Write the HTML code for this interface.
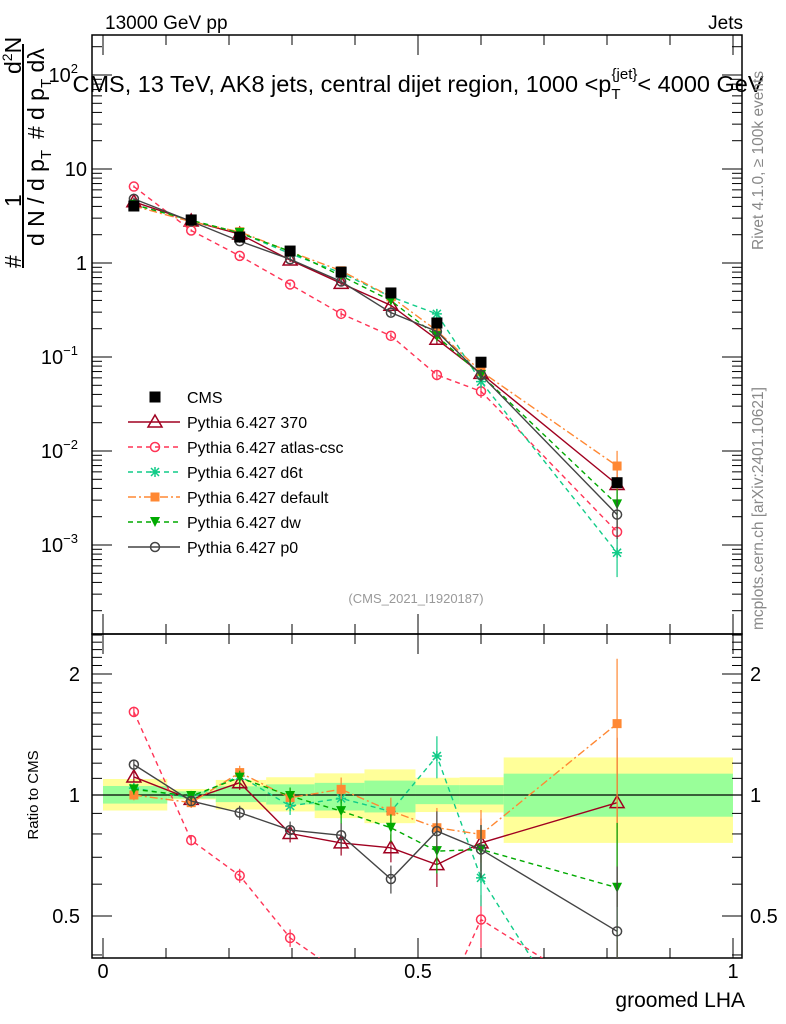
<!DOCTYPE html>
<html><head><meta charset="utf-8">
<style>
html,body{margin:0;padding:0;background:#fff;overflow:hidden;width:786px;height:1024px;}
svg{display:block;font-family:"Liberation Sans",sans-serif;}
</style></head>
<body>
<svg id="c" width="786" height="1024" viewBox="0 0 786 1024" xmlns="http://www.w3.org/2000/svg">
<g id="bands"></g>
<g id="axes"></g>
<g id="series"></g>
<text x="105" y="29" font-size="19">13000 GeV pp</text>
<text x="743" y="29" font-size="19" text-anchor="end">Jets</text>
<text x="418" y="92" font-size="23.5" text-anchor="middle">CMS, 13 TeV, AK8 jets, central dijet region, 1000 &lt;p<tspan font-size="15" dy="7">T</tspan><tspan font-size="15" dy="-20" dx="-9">{jet}</tspan><tspan dy="13">&lt; 4000 GeV</tspan></text>
<text x="416" y="603" font-size="13" fill="#999" text-anchor="middle">(CMS_2021_I1920187)</text>
<text transform="translate(763,250) rotate(-90)" font-size="15.5" fill="#888">Rivet 4.1.0, ≥ 100k events</text>
<text transform="translate(763,630) rotate(-90)" font-size="15.5" fill="#888">mcplots.cern.ch [arXiv:2401.10621]</text>
<g font-size="23">
<text transform="translate(21,268) rotate(-90)">#</text>
<text transform="translate(21,207) rotate(-90)">1</text>
<text transform="translate(21,74) rotate(-90)">d<tspan font-size="14" dy="-9">2</tspan><tspan dy="9">N</tspan></text>
<line x1="23" y1="268" x2="23" y2="44" stroke="#000" stroke-width="2"/>
<text transform="translate(44,246) rotate(-90)">d N / d p<tspan font-size="15" dy="7">T</tspan></text>
<text transform="translate(44,139) rotate(-90)">#</text>
<text transform="translate(44,120) rotate(-90)">d p<tspan font-size="15" dy="7">T</tspan><tspan dy="-7"> dλ</tspan></text>
</g>
<text transform="translate(38,795) rotate(-90)" font-size="15" text-anchor="middle">Ratio to CMS</text>
<text x="745" y="1007" font-size="21" text-anchor="end">groomed LHA</text>
<g id="legend"></g>
</svg>
<script>
const xPoints = [0.049, 0.14, 0.217, 0.297, 0.378, 0.457, 0.53, 0.60, 0.816];
const binEdges = [0, 0.102, 0.179, 0.259, 0.336, 0.415, 0.496, 0.566, 0.636, 1.0];
const cmsValues = [4.04, 2.87, 1.89, 1.34, 0.80, 0.48, 0.23, 0.088, 0.0046];
const cmsErrFrac = [0.03, 0.02, 0.03, 0.04, 0.05, 0.06, 0.05, 0.05, 0.1];
const bandOuterHi = [1.096, 1.035, 1.09, 1.107, 1.132, 1.158, 1.104, 1.107, 1.24];
const bandOuterLo = [0.915, 0.975, 0.92, 0.91, 0.876, 0.851, 0.907, 0.905, 0.76];
const bandInnerHi = [1.053, 1.021, 1.051, 1.063, 1.072, 1.086, 1.058, 1.058, 1.13];
const bandInnerLo = [0.952, 0.98, 0.96, 0.947, 0.915, 0.905, 0.949, 0.947, 0.883];
const ratio370 = [1.109, 0.975, 1.073, 0.802, 0.760, 0.739, 0.671, 0.760, 0.957];
const ratioAtlas = [1.61, 0.772, 0.630, 0.441, 0.36, 0.35, 0.28, 0.49, 0.30];
const ratioD6t = [1.04, 0.985, 1.115, 0.939, 0.981, 0.91, 1.25, 0.622, 0.18];
const ratioDefault = [1.0, 0.957, 1.137, 0.985, 1.033, 0.912, 0.829, 0.798, 1.505];
const ratioDw = [1.033, 0.994, 1.105, 0.994, 0.912, 0.829, 0.725, 0.732, 0.588];
const ratioP0 = [1.19, 0.966, 0.904, 0.818, 0.794, 0.618, 0.813, 0.732, 0.458];
const errFrac = [0.03, 0.03, 0.04, 0.05, 0.07, 0.08, 0.12, 0.15, 0.45];
const ratioTickValues = [0.5, 1, 2];
const xTickValues = [0, 0.5, 1];

const NS = "http://www.w3.org/2000/svg";
function mk(tag, attrs, parent){const e=document.createElementNS(NS,tag);for(const k in attrs)e.setAttribute(k,attrs[k]);parent.appendChild(e);return e;}
const L=92,R=742,T1=35,B1=634,T2=634,B2=958;
const X = v => 103 + 630*v;
const Y = v => 263 - 94*Math.log10(v);
const YR = r => 795 - 121*Math.log2(r);
const axes=document.getElementById('axes'), bands=document.getElementById('bands'), ser=document.getElementById('series');

for(let i=0;i<xPoints.length;i++){
  const x1=X(binEdges[i]), x2=X(binEdges[i+1]);
  const o=mk('rect',{x:x1,y:YR(bandOuterHi[i]),width:x2-x1,height:YR(bandOuterLo[i])-YR(bandOuterHi[i]),fill:'#ffff99'},bands);
  
  
  const n=mk('rect',{x:x1,y:YR(bandInnerHi[i]),width:x2-x1,height:YR(bandInnerLo[i])-YR(bandInnerHi[i]),fill:'#99ff99'},bands);
  
  
}
mk('line',{x1:L,y1:YR(1),x2:R,y2:YR(1),stroke:'#000','stroke-width':1.3},bands);

mk('rect',{x:L,y:T1,width:R-L,height:B1-T1,fill:'none',stroke:'#000','stroke-width':1.5},axes);
mk('rect',{x:L,y:T2,width:R-L,height:B2-T2,fill:'none',stroke:'#000','stroke-width':1.5},axes);
for(let d=-4;d<=2;d++){
  for(let m=1;m<10;m++){
    const v=m*Math.pow(10,d); const y=Y(v);
    if(y<T1||y>B1) continue;
    const len=m==1?20:10;
    mk('line',{x1:L,y1:y,x2:L+len,y2:y,stroke:'#000'},axes);
    mk('line',{x1:R,y1:y,x2:R-len,y2:y,stroke:'#000'},axes);
  }
}
function lab(x,y,txt,sup,anchor){
  const t=mk('text',{x:x,y:y,'font-size':20,'text-anchor':anchor||'end'},axes);
  t.textContent=txt;
  if(sup){const s=mk('tspan',{'font-size':13,dy:-9},t);s.textContent=sup;}
  
  
}
lab(78,82,'10','2');
lab(87,176,'10');
lab(87,270,'1');
lab(78,364,'10','−1');
lab(78,458,'10','−2');
lab(78,552,'10','−3');
for(let r=0.4;r<2.6;r+=0.1){
  const y=YR(r); if(y<T2||y>B2) continue;
  const maj=Math.abs(r-0.5)<1e-6||Math.abs(r-1)<1e-6||Math.abs(r-2)<1e-6;
  const len=maj?20:10;
  mk('line',{x1:L,y1:y,x2:L+len,y2:y,stroke:'#000'},axes);
  mk('line',{x1:R,y1:y,x2:R-len,y2:y,stroke:'#000'},axes);
}
ratioTickValues.forEach(r=>{
  const s=String(r);
  lab(80,YR(r)+7,s);
  lab(750,YR(r)+7,s,null,'start');
});
for(let k=0;k<=10;k++){
  const v=k/10, x=X(v), len=(k%5==0)?20:10;
  mk('line',{x1:x,y1:B1,x2:x,y2:B1-len,stroke:'#000'},axes);
  mk('line',{x1:x,y1:T1,x2:x,y2:T1+len,stroke:'#000'},axes);
  mk('line',{x1:x,y1:B2,x2:x,y2:B2-len,stroke:'#000'},axes);
  mk('line',{x1:x,y1:T2,x2:x,y2:T2+len,stroke:'#000'},axes);
}
xTickValues.forEach(v=>{lab(X(v),978,String(v),null,'middle');});

const defs=mk('defs',{},document.getElementById('c'));
const c1=mk('clipPath',{id:'cm'},defs); mk('rect',{x:L,y:T1,width:R-L,height:B1-T1},c1);
const c2=mk('clipPath',{id:'cr'},defs); mk('rect',{x:L,y:T2,width:R-L,height:B2-T2},c2);
const gM=mk('g',{'clip-path':'url(#cm)'},ser), gR=mk('g',{'clip-path':'url(#cr)'},ser);

function marker(g,type,x,y,col){
  let e;
  if(type=='tri') e=mk('path',{d:`M${x},${y-7}L${x+7},${y+5}L${x-7},${y+5}Z`,fill:'none',stroke:col,'stroke-width':1.5},g);
  else if(type=='circ') e=mk('circle',{cx:x,cy:y,r:4.5,fill:'none',stroke:col,'stroke-width':1.5},g);
  else if(type=='star'){e=mk('path',{d:`M${x-5},${y}H${x+5}M${x},${y-5}V${y+5}M${x-4},${y-4}L${x+4},${y+4}M${x-4},${y+4}L${x+4},${y-4}`,stroke:col,'stroke-width':1.5},g);}
  else if(type=='sq') e=mk('rect',{x:x-4.5,y:y-4.5,width:9,height:9,fill:col},g);
  else if(type=='dtri') e=mk('path',{d:`M${x-5},${y-5}L${x+5},${y-5}L${x},${y+5}Z`,fill:col},g);
  else if(type=='bsq') e=mk('rect',{x:x-5.5,y:y-5.5,width:11,height:11,fill:col},g);
  
  
}
const seriesList=[
 {name:'Pythia 6.427 370',r:ratio370,col:'#a00020',dash:'',m:'tri'},
 {name:'Pythia 6.427 atlas-csc',r:ratioAtlas,col:'#ff3355',dash:'5,4',m:'circ'},
 {name:'Pythia 6.427 d6t',r:ratioD6t,col:'#11cc88',dash:'5,4',m:'star'},
 {name:'Pythia 6.427 default',r:ratioDefault,col:'#ff8833',dash:'8,3,2,3',m:'sq'},
 {name:'Pythia 6.427 dw',r:ratioDw,col:'#00aa00',dash:'5,4',m:'dtri'},
 {name:'Pythia 6.427 p0',r:ratioP0,col:'#444444',dash:'',m:'circ'}
];
function drawSeries(s){
  const main=s.r.map((r,i)=>r*cmsValues[i]);
  const pm=main.map((v,i)=>X(xPoints[i])+','+Y(v)).join(' ');
  const pr=s.r.map((v,i)=>X(xPoints[i])+','+YR(v)).join(' ');
  const l1=mk('polyline',{points:pm,fill:'none',stroke:s.col,'stroke-width':1.4,'stroke-dasharray':s.dash},gM);
  
  
  const l2=mk('polyline',{points:pr,fill:'none',stroke:s.col,'stroke-width':1.4,'stroke-dasharray':s.dash},gR);
  
  
  main.forEach((v,i)=>{
    const x=X(xPoints[i]), e=errFrac[i];
    mk('line',{x1:x,y1:Y(v*(1+e)),x2:x,y2:Y(v*Math.max(0.05,1-e)),stroke:s.col,'stroke-width':1.2},gM);
    marker(gM,s.m,x,Y(v),s.col);
    const r=s.r[i];
    mk('line',{x1:x,y1:YR(r*(1+e)),x2:x,y2:YR(r*Math.max(0.05,1-e)),stroke:s.col,'stroke-width':1.2},gR);
    marker(gR,s.m,x,YR(r),s.col);
  });
}
seriesList.forEach(drawSeries);
cmsValues.forEach((v,i)=>{
  const x=X(xPoints[i]);
  mk('line',{x1:x,y1:Y(v*(1+cmsErrFrac[i])),x2:x,y2:Y(v*(1-cmsErrFrac[i])),stroke:'#000'},gM);
  marker(gM,'bsq',x,Y(v),'#000');
});
const lg=document.getElementById('legend');
const ly0=397;
marker(lg,'bsq',155,ly0,'#000');
let t=mk('text',{x:187,y:ly0+6,'font-size':16},lg); t.textContent='CMS';


seriesList.forEach((s,k)=>{
  const y=ly0+25*(k+1);
  mk('line',{x1:128,y1:y,x2:180,y2:y,stroke:s.col,'stroke-width':1.4,'stroke-dasharray':s.dash},lg);
  marker(lg,s.m,155,y,s.col);
  const tt=mk('text',{x:187,y:y+6,'font-size':16},lg); tt.textContent=s.name;
  
  
});
</script>
</body></html>
